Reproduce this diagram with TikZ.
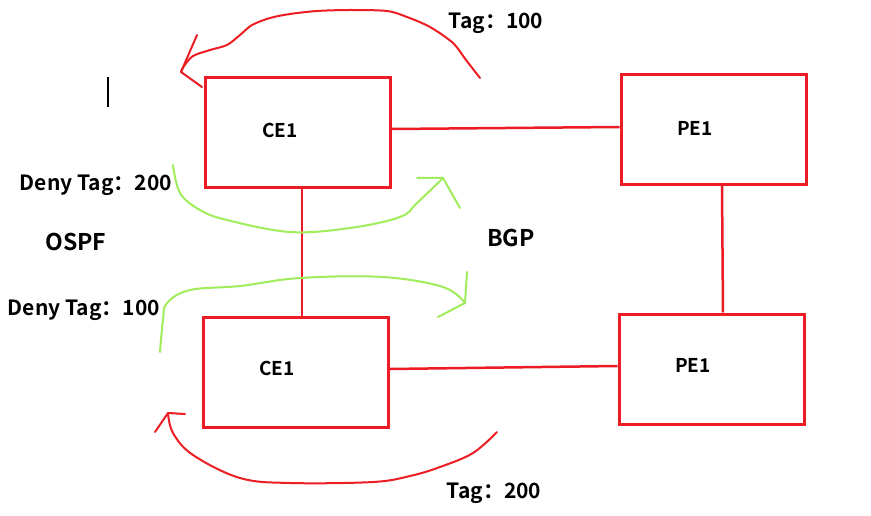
\documentclass[tikz,border=0pt]{standalone}
\usepackage{fontspec}
\setmainfont{Noto Sans CJK SC}[BoldFont={Noto Sans CJK SC Bold}]
\begin{document}
\begin{tikzpicture}[x=1pt,y=-1pt,
  box/.style={draw=boxred,line width=3pt,minimum width=185pt,minimum height=110pt,inner sep=0pt},
  link/.style={draw=boxred,line width=2.5pt},
  lbl/.style={font=\bfseries\fontsize{21}{24}\selectfont,inner sep=0pt},
  boxlbl/.style={font=\bfseries\fontsize{19}{22}\selectfont,inner sep=0pt},
  biglbl/.style={font=\bfseries\fontsize{23}{26}\selectfont,inner sep=0pt},
  rcurve/.style={draw=curvered,line width=2pt,line cap=round,line join=round},
  gcurve/.style={draw=curvegreen,line width=2pt,line cap=round,line join=round}]
\definecolor{boxred}{RGB}{237,28,36}
\definecolor{curvered}{RGB}{236,30,36}
\definecolor{curvegreen}{RGB}{160,236,90}
\useasboundingbox (0,0) rectangle (871,516);
\fill[white] (0,0) rectangle (871,516);
% boxes
\node[box] (ce1t) at (298,133) {};
\node[box] (pe1t) at (713.5,129.5) {};
\node[box] (ce1b) at (296,372.5) {};
\node[box] (pe1b) at (711.5,369) {};
\node[boxlbl] (tce1t) at (280,130) {CE1};
\node[boxlbl] (tpe1t) at (695,128) {PE1};
\node[boxlbl] (tce1b) at (277,368) {CE1};
\node[boxlbl] (tpe1b) at (693,365) {PE1};
% links
\draw[link] (ce1t.east |- 0,129) -- (pe1t.west |- 0,127);
\draw[link] (ce1t.south -| 302,0) -- (ce1b.north -| 302,0);
\draw[link] (pe1t.south -| 722,0) -- (pe1b.north -| 723,0);
\draw[link] (ce1b.east |- 0,369) -- (pe1b.west |- 0,366);
% labels
\node[lbl] (tag100) at (496,23) {Tag：100};
\node[lbl] (deny200) at (96,185) {Deny Tag：200};
\node[biglbl] (ospf) at (76,242) {OSPF};
\node[biglbl] (bgp) at (511,238) {BGP};
\node[lbl] (deny100) at (84,310) {Deny Tag：100};
\node[lbl] (tag200) at (494,493) {Tag：200};
% text cursor
\draw[black,line width=1.2pt] (108,77) -- (108,107);
% red top curve
\draw[rcurve] plot[smooth,tension=0.5] coordinates {(480,78) (466,60) (453,43) (430,27) (407,17) (387,11) (350,10) (317,11) (290,14) (270,18) (252,25) (240,35) (227,45) (210,50) (193,56) (184,66) (181,72)};
\draw[rcurve] (197,35) -- (181,72) -- (202,87);
% green top curve
\draw[gcurve] plot[smooth,tension=0.6] coordinates {(173,165) (180,193) (200,210) (227,220) (290,232) (350,228) (400,217) (417,203) (443,178)};
\draw[gcurve] (417,178) -- (443,178) -- (460,208);
% green bottom curve
\draw[gcurve] plot[smooth,tension=0.6] coordinates {(160,352) (163,320) (167,303) (190,290) (240,286) (300,278) (383,277) (443,287) (465,303)};
\draw[gcurve] (467,272) -- (465,303) -- (438,317);
% red bottom curve
\draw[rcurve] plot[smooth,tension=0.6] coordinates {(497,432) (473,453) (440,467) (410,476) (373,482) (290,483) (240,478) (193,455) (173,433) (168,413)};
\draw[rcurve] (155,432) -- (168,413) -- (185,414);
\end{tikzpicture}
\end{document}
